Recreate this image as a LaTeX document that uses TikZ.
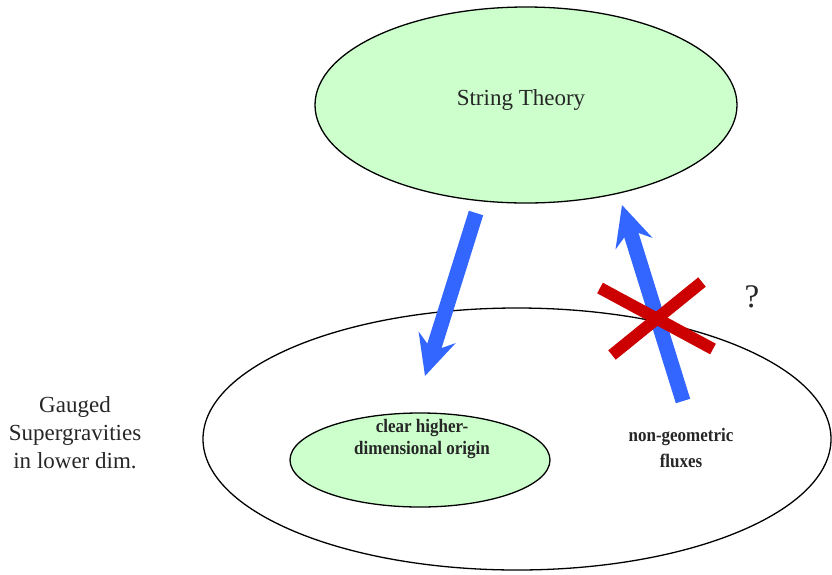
\documentclass[tikz,border=0pt]{standalone}
\usepackage{fontspec}
\setmainfont{Liberation Serif}
\usetikzlibrary{arrows.meta,shapes.geometric}
\definecolor{lgreen}{RGB}{204,255,204}
\definecolor{arrblue}{RGB}{51,102,255}
\definecolor{xred}{RGB}{204,0,0}
\tikzset{
  blob/.style={ellipse, draw=black, line width=1.3pt, inner sep=0pt, outer sep=0pt},
  bigarrow/.style={draw=arrblue, line width=15pt, -{Stealth[length=40pt,width=38pt,inset=14pt]}},
  crossbar/.style={draw=xred, line width=12pt},
  plain/.style={inner sep=0pt, align=center, text=black!85}
}
\begin{document}
\begin{tikzpicture}[x=1pt,y=-1pt]
\useasboundingbox (0,0) rectangle (832,574);
\node[blob, fill=lgreen, minimum width=422pt, minimum height=196pt] (top) at (526,105) {};
\node[blob, minimum width=628pt, minimum height=262pt] (big) at (517,439) {};
\node[blob, fill=lgreen, minimum width=260pt, minimum height=94pt] (inner) at (420,460) {};
\node[plain, font=\fontsize{23}{28}\selectfont] (st) at (521,100) {String Theory};
\node[plain, font=\fontsize{23}{28}\selectfont] (gauged) at (75,433) {Gauged\\Supergravities\\in lower dim.};
\node[plain, yscale=1.12, font=\fontsize{17}{20}\selectfont\bfseries] (clear) at (422,439) {clear higher-\\dimensional origin};
\node[plain, yscale=1.12, font=\fontsize{17}{22.5}\selectfont\bfseries] (ng) at (681,448) {non-geometric\\fluxes};
\node[plain, font=\fontsize{33}{36}\selectfont] (q) at (752,297) {?};
\coordinate (a1s) at (476,213);
\coordinate (a1e) at (425,376);
\coordinate (a2s) at (683,401);
\coordinate (a2e) at (622,205);
\draw[bigarrow] (a1s) -- (a1e);
\draw[bigarrow] (a2s) -- (a2e);
\coordinate (x1a) at (600,288);
\coordinate (x1b) at (713,349);
\coordinate (x2a) at (612,355);
\coordinate (x2b) at (702,282);
\draw[crossbar] (x1a) -- (x1b);
\draw[crossbar] (x2a) -- (x2b);
\end{tikzpicture}
\end{document}
